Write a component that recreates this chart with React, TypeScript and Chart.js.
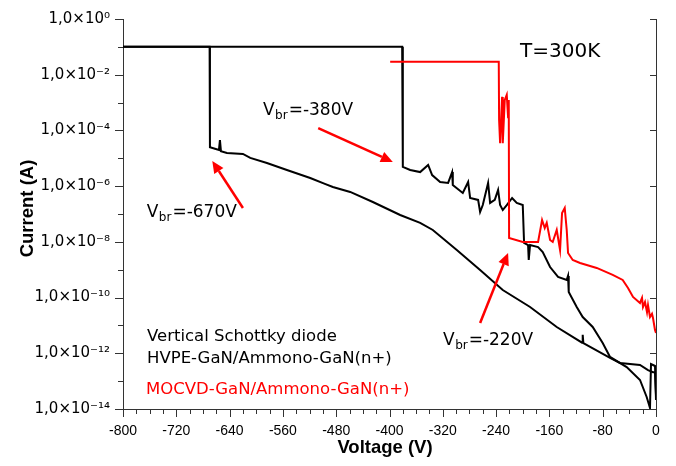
import React, { useEffect, useRef } from 'react';
import { Chart, registerables } from 'chart.js';

Chart.register(...registerables);

// ---------------- Data ----------------
// HVPE-GaN/Ammono-GaN(n+) diode, breakdown at about -670 V
const hvpeAVoltage = [-800, -670, -669.5, -662, -656, -654.5, -653, -644, -620, -609, -584, -554, -519, -497, -485, -459, -425, -384, -354, -335, -299, -264, -230, -189, -149, -111, -110, -109, -69, -54, -24, -12, -4.5, -1.5, 0];
const hvpeACurrent = [0.1, 0.1, 2.5e-5, 2.2e-5, 2.0e-5, 4.5e-5, 1.8e-5, 1.55e-5, 1.43e-5, 1.03e-5, 6.8e-6, 3.8e-6, 1.96e-6, 1.2e-6, 9.3e-7, 6.2e-7, 2.7e-7, 9.2e-8, 4.8e-8, 2.67e-8, 5.1e-9, 9.8e-10, 1.87e-10, 4.6e-11, 8.8e-12, 2.4e-12, 4.6e-12, 2.3e-12, 6.8e-13, 4.5e-13, 3.8e-13, 2.5e-13, 2.1e-13, 2.1e-13, 3.2e-14];

// HVPE-GaN/Ammono-GaN(n+) diode, breakdown at about -380 V
const hvpeBVoltage = [-800, -381, -380, -369, -354, -342, -336, -324, -312, -306, -305, -290, -282, -279, -267, -264, -260, -252, -249, -242, -237, -234, -230, -224, -216, -209, -200, -198, -192, -191, -189, -177, -170, -159, -147, -134, -132, -131, -119, -110, -95, -80, -69, -44, -24, -14, -9, -7.5, -4.5, -1.5, 0];
const hvpeBCurrent = [0.1, 0.1, 4.9e-6, 3.8e-6, 3.2e-6, 5.75e-6, 2.5e-6, 1.41e-6, 1.3e-6, 3.2e-6, 1.1e-6, 5.7e-7, 1.41e-6, 3.76e-7, 3.2e-7, 1.18e-7, 2.1e-7, 1.3e-6, 2.5e-7, 3.2e-7, 7.3e-7, 2.1e-7, 1.39e-7, 2.1e-7, 3.76e-7, 2.5e-7, 2.1e-7, 9.1e-9, 7.7e-9, 2.24e-9, 7.7e-9, 6.5e-9, 4.3e-9, 1.25e-9, 5.5e-10, 4.3e-10, 6.0e-10, 1.59e-10, 4.6e-11, 2.0e-11, 8.8e-12, 2.35e-12, 7.4e-13, 3.2e-13, 1.1e-13, 2.7e-14, 1.09e-14, 4.1e-13, 3.8e-13, 3.5e-13, 2.1e-14];

// MOCVD-GaN/Ammono-GaN(n+) diode, breakdown at about -220 V
const mocvdVoltage = [-399, -236, -235.5, -234, -231, -230, -227, -224, -222, -221, -220.5, -200, -177, -171, -167, -164, -159, -155, -149, -144, -141, -137, -134, -132, -125, -114, -89, -65, -50, -42, -34.5, -24, -21, -19.5, -16.5, -13.5, -12, -9, -6, -4.5, -1.5, 0];
const mocvdCurrent = [2.9e-2, 2.9e-2, 2.4e-4, 3.5e-5, 1.6e-3, 3.5e-5, 1.24e-3, 1.9e-3, 3.0e-4, 1.24e-3, 1.38e-8, 9.9e-9, 9.9e-9, 6.1e-8, 3.15e-8, 4.8e-8, 1.17e-8, 9.9e-9, 2.67e-8, 5.1e-9, 1.09e-7, 1.64e-7, 2.67e-8, 4.0e-9, 2.24e-9, 1.75e-9, 1.16e-9, 6.5e-10, 4.3e-10, 2.2e-10, 1.05e-10, 6.4e-11, 9.7e-11, 4.6e-11, 6.9e-11, 3.0e-11, 5.4e-11, 2.0e-11, 2.6e-11, 1.85e-11, 6.9e-12, 5.4e-12];

// Axes
const xMin = -800;
const xMax = 0;
const xMajorStep = 80;
const xMinorStep = 20;
const yMin = 1e-14;
const yMax = 1;
const yMajorExponents = [0, -2, -4, -6, -8, -10, -12, -14];
const yAllExponents = [0, -1, -2, -3, -4, -5, -6, -7, -8, -9, -10, -11, -12, -13, -14];

// Texts
const xTitle = 'Voltage (V)';
const yTitle = 'Current (A)';
const tempLabel = 'T=300K';
const legendLines = ['Vertical Schottky diode', 'HVPE-GaN/Ammono-GaN(n+)', 'MOCVD-GaN/Ammono-GaN(n+)'];
const vbrLabels = ['-670V', '-380V', '-220V'];

// ---------------- Styling / placement ----------------
const BLACK = '#000000';
const RED = '#ff0000';
const AXIS = '#333333';
const FONT = "'DejaVu Sans', Verdana, sans-serif";
const FONT_B = "'Liberation Sans', Arial, sans-serif";

// annotation anchors in data coordinates (V, A)
const tempAt = { v: -204, i: 0.0443 };
const legendAt = [
  { v: -764, i: 2.84e-12, color: BLACK },
  { v: -764, i: 4.38e-13, color: BLACK },
  { v: -765.5, i: 3.38e-14, color: RED },
];
const vbrAt = [
  { v: -764.4, i: 8.0e-8 },
  { v: -589.9, i: 3.58e-4 },
  { v: -319.7, i: 1.99e-12 },
];
const arrows = [
  { from: { v: -620, i: 1.64e-7 }, to: { v: -666, i: 8.0e-6 } },
  { from: { v: -507, i: 1.22e-4 }, to: { v: -395, i: 7.4e-6 } },
  { from: { v: -264, i: 1.22e-11 }, to: { v: -222, i: 4.0e-9 } },
];

const SUP: Record<string, string> = {
  '0': '\u2070', '1': '\u00b9', '2': '\u00b2', '3': '\u00b3', '4': '\u2074',
  '5': '\u2075', '6': '\u2076', '7': '\u2077', '8': '\u2078', '9': '\u2079', '-': '\u207b',
};
const powLabel = (e: number) => '1,0\u00d710' + String(e).split('').map((c) => SUP[c] || c).join('');

const toPoints = (xs: number[], ys: number[]) => xs.map((x, k) => ({ x, y: ys[k] }));

function drawArrow(ctx: CanvasRenderingContext2D, x1: number, y1: number, x2: number, y2: number) {
  const ang = Math.atan2(y2 - y1, x2 - x1);
  const hl = 12;
  const hw = 5.5;
  const bx = x2 - hl * Math.cos(ang);
  const by = y2 - hl * Math.sin(ang);
  ctx.strokeStyle = RED;
  ctx.fillStyle = RED;
  ctx.lineWidth = 2.5;
  ctx.beginPath();
  ctx.moveTo(x1, y1);
  ctx.lineTo(bx, by);
  ctx.stroke();
  ctx.beginPath();
  ctx.moveTo(x2, y2);
  ctx.lineTo(bx + hw * Math.sin(ang), by - hw * Math.cos(ang));
  ctx.lineTo(bx - hw * Math.sin(ang), by + hw * Math.cos(ang));
  ctx.closePath();
  ctx.fill();
}

const noScalePadding = (s: any) => {
  s.paddingTop = 0;
  s.paddingBottom = 0;
  s.paddingLeft = 0;
  s.paddingRight = 0;
};

const decorPlugin = {
  id: 'decor',
  afterDraw(chart: any) {
    const { ctx, chartArea: a } = chart;
    const xs = chart.scales.x;
    const ys = chart.scales.y;
    const px = (v: number) => xs.getPixelForValue(v);
    const py = (v: number) => ys.getPixelForValue(v);
    ctx.save();

    // tick marks and right axis
    ctx.strokeStyle = AXIS;
    ctx.lineWidth = 1;
    ctx.beginPath();
    for (let v = xMin; v <= xMax; v += xMinorStep) {
      const x = Math.round(px(v)) + 0.5;
      const len = v % xMajorStep === 0 ? 8 : 5;
      ctx.moveTo(x, a.bottom);
      ctx.lineTo(x, a.bottom + len);
    }
    for (const e of yAllExponents) {
      const y = Math.round(py(Math.pow(10, e))) + 0.5;
      const major = yMajorExponents.includes(e);
      ctx.moveTo(a.left - (major ? 8 : 5), y);
      ctx.lineTo(a.left, y);
      if (major) {
        ctx.moveTo(a.right - 6, y);
        ctx.lineTo(a.right, y);
      }
    }
    const rx = Math.round(a.right) + 0.5;
    ctx.moveTo(rx, a.top);
    ctx.lineTo(rx, a.bottom);
    ctx.stroke();

    // axis titles
    ctx.fillStyle = BLACK;
    ctx.font = `bold 18.5px ${FONT_B}`;
    ctx.textAlign = 'center';
    ctx.textBaseline = 'alphabetic';
    ctx.fillText(xTitle, (a.left + a.right) / 2 - 4.5, a.bottom + 44);
    ctx.save();
    ctx.translate(24.5, (a.top + a.bottom) / 2 - 5.5);
    ctx.rotate(-Math.PI / 2);
    ctx.fillText(yTitle, 0, 0);
    ctx.restore();

    // temperature label
    ctx.textAlign = 'left';
    ctx.font = `20px ${FONT}`;
    ctx.fillText(tempLabel, px(tempAt.v), py(tempAt.i));

    // legend-like text block
    ctx.font = `16.5px ${FONT}`;
    legendLines.forEach((t, k) => {
      ctx.fillStyle = legendAt[k].color;
      ctx.fillText(t, px(legendAt[k].v), py(legendAt[k].i));
    });

    // V_br labels
    ctx.fillStyle = BLACK;
    vbrLabels.forEach((t, k) => {
      const x = px(vbrAt[k].v);
      const y = py(vbrAt[k].i);
      ctx.font = `17px ${FONT}`;
      ctx.fillText('V', x, y);
      const w1 = ctx.measureText('V').width;
      ctx.font = `12px ${FONT}`;
      ctx.fillText('br', x + w1 + 0.5, y + 4);
      const w2 = ctx.measureText('br').width;
      ctx.font = `17px ${FONT}`;
      ctx.fillText('=' + t, x + w1 + w2 + 1.5, y);
    });

    // arrows
    arrows.forEach((ar) => {
      drawArrow(ctx, px(ar.from.v), py(ar.from.i), px(ar.to.v), py(ar.to.i));
    });

    ctx.restore();
  },
};

export default function App() {
  const ref = useRef<HTMLCanvasElement>(null);

  useEffect(() => {
    if (!ref.current) return;
    const lineStyle = { pointRadius: 0, borderWidth: 2, tension: 0, fill: false };
    const chart = new Chart(ref.current, {
      type: 'line',
      data: {
        datasets: [
          { label: 'MOCVD-GaN/Ammono-GaN(n+)', data: toPoints(mocvdVoltage, mocvdCurrent), borderColor: RED, backgroundColor: RED, ...lineStyle },
          { label: 'HVPE-GaN/Ammono-GaN(n+) #1', data: toPoints(hvpeAVoltage, hvpeACurrent), borderColor: BLACK, backgroundColor: BLACK, ...lineStyle },
          { label: 'HVPE-GaN/Ammono-GaN(n+) #2', data: toPoints(hvpeBVoltage, hvpeBCurrent), borderColor: BLACK, backgroundColor: BLACK, ...lineStyle },
        ],
      },
      options: {
        responsive: false,
        animation: false,
        devicePixelRatio: 1,
        layout: { padding: { top: 11, right: 12, bottom: 0, left: 0 } },
        plugins: { legend: { display: false }, tooltip: { enabled: false } },
        scales: {
          x: {
            type: 'linear',
            min: xMin,
            max: xMax,
            grid: { display: false, drawTicks: false },
            border: { display: true, color: AXIS, width: 1 },
            ticks: {
              stepSize: xMajorStep,
              autoSkip: false,
              maxRotation: 0,
              padding: 14,
              color: BLACK,
              font: { family: FONT_B, size: 14 },
              callback: (v: any) => String(v),
            },
            afterFit: (s: any) => { s.height = 49; noScalePadding(s); },
          },
          y: {
            type: 'logarithmic',
            min: yMin,
            max: yMax,
            grid: { display: false, drawTicks: false },
            border: { display: true, color: AXIS, width: 1 },
            afterBuildTicks: (s: any) => {
              s.ticks = yMajorExponents.slice().reverse().map((e) => ({ value: Math.pow(10, e) }));
            },
            ticks: {
              autoSkip: false,
              padding: 13,
              color: BLACK,
              font: { family: FONT, size: 15 },
              callback: (v: any) => powLabel(Math.round(Math.log10(Number(v)))),
            },
            afterFit: (s: any) => { s.width = 115; noScalePadding(s); },
          },
        },
      } as any,
      plugins: [decorPlugin],
    });
    return () => chart.destroy();
  }, []);

  return <canvas ref={ref} width={660} height={450} style={{ display: 'block', width: 660, height: 450 }} />;
}
